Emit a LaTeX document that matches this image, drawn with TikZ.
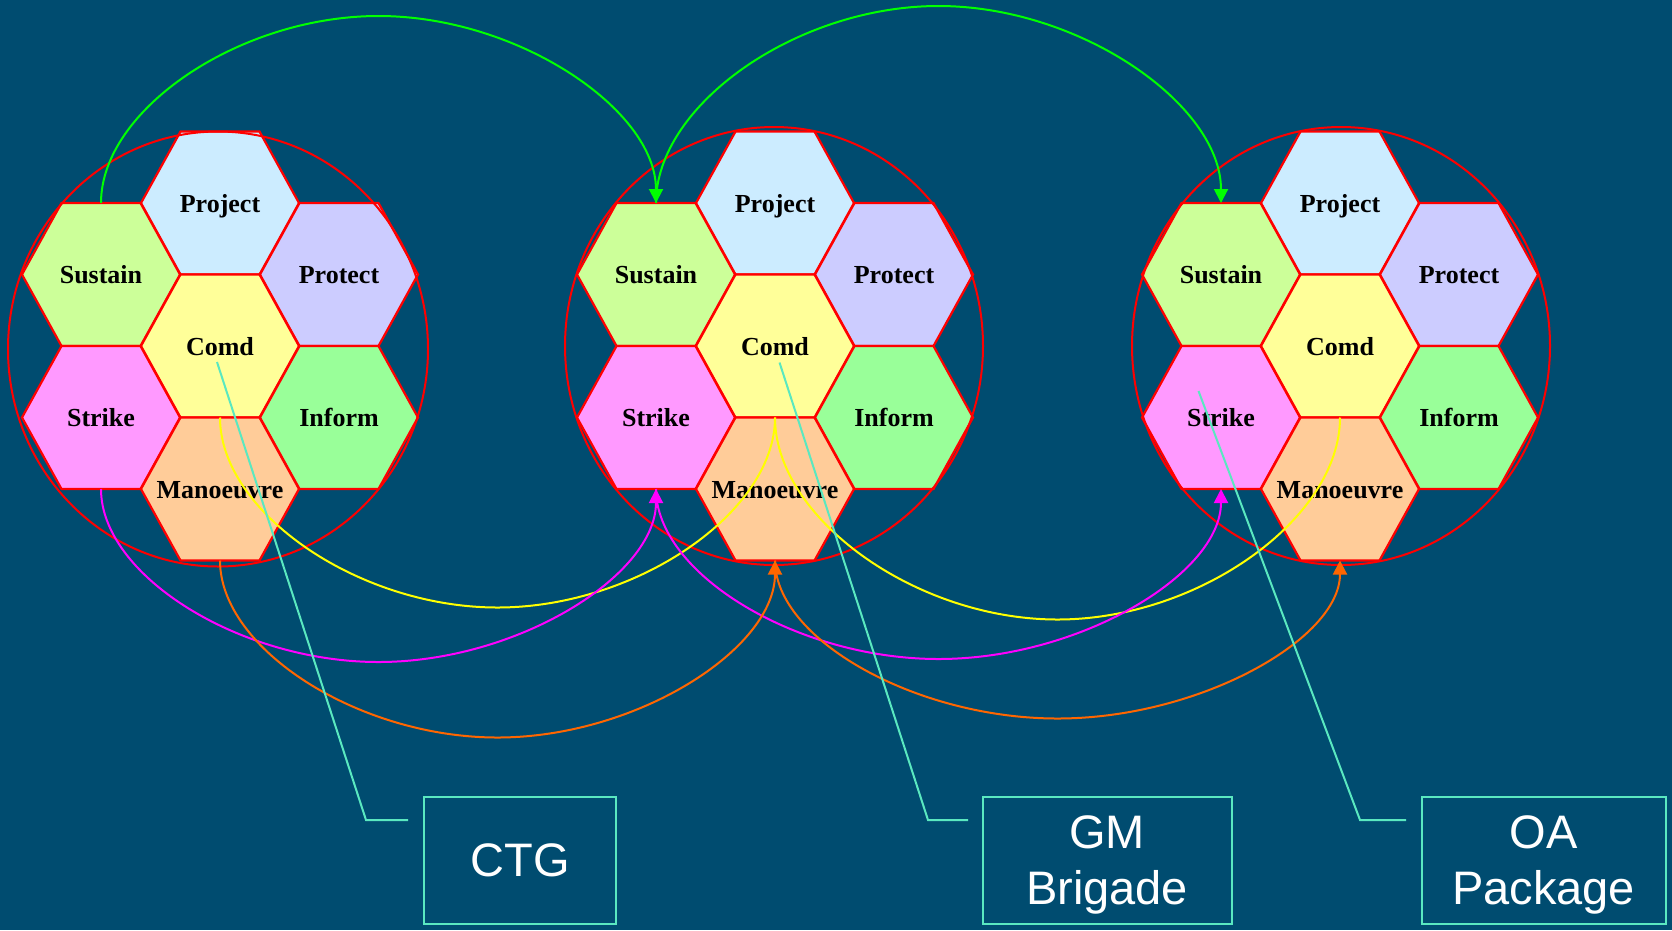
\documentclass[tikz,border=0pt]{standalone}
\usepackage{fontspec}
\setmainfont{Liberation Serif}
\newfontfamily\boxsans{Liberation Sans}
\usetikzlibrary{arrows.meta,calc}
\definecolor{bgblue}{RGB}{0,76,112}
\definecolor{cProject}{HTML}{CCECFF}
\definecolor{cSustain}{HTML}{CCFF99}
\definecolor{cProtect}{HTML}{CCCCFF}
\definecolor{cComd}{HTML}{FFFF99}
\definecolor{cStrike}{HTML}{FF99FF}
\definecolor{cInform}{HTML}{99FF99}
\definecolor{cMan}{HTML}{FFCC99}
\definecolor{cGreen}{HTML}{00FF00}
\definecolor{cMag}{HTML}{FF00FF}
\definecolor{cYel}{HTML}{FFFF00}
\definecolor{cOra}{HTML}{FF6600}
\definecolor{cAqua}{RGB}{90,232,192}
\tikzset{
  hexlabel/.style={minimum width=158pt, minimum height=143pt, inner sep=0pt, outer sep=0pt,
     font=\fontsize{26}{30}\selectfont\bfseries, text height=18pt, text depth=0pt},
  hexline/.style={draw=red, line width=2.2pt},
  ring/.style={draw=red, line width=2pt},
  link/.style={line width=2pt},
  tip/.style={-{Triangle[length=14pt,width=14pt]}},
  leader/.style={draw=cAqua, line width=2pt},
  tbox/.style={draw=cAqua, line width=2pt, minimum height=127pt, inner sep=0pt, text=white,
     font=\boxsans\fontsize{47}{55}\selectfont},
}
\newcommand\hexcell[5]{%
  \filldraw[hexline, fill=#4] ({#2},{#3}) ++(-79,0) -- ++(39.5,-71.5) -- ++(79,0) -- ++(39.5,71.5)
     -- ++(-39.5,71.5) -- ++(-79,0) -- cycle;
  \node[hexlabel] (#1) at ({#2},{#3}) {#5};}
\newcommand\hexcluster[2]{%
  \hexcell{proj#1}{#2}{203}{cProject}{Project}
  \hexcell{sust#1}{#2-119}{274.5}{cSustain}{Sustain}
  \hexcell{prot#1}{#2+119}{274.5}{cProtect}{Protect}
  \hexcell{comd#1}{#2}{346}{cComd}{Comd}
  \hexcell{strk#1}{#2-119}{417.5}{cStrike}{Strike}
  \hexcell{infm#1}{#2+119}{417.5}{cInform}{Inform}
  \hexcell{manv#1}{#2}{489}{cMan}{Manoeuvre}}
\newcommand\pptcurve[4]{%
  \draw[#1] (#2) .. controls ($(#2)+(0,{(#4)/2})$) and ($(#2)!0.25!(#3)+(0,#4)$)
    .. ($(#2)!0.5!(#3)+(0,#4)$)
    .. controls ($(#2)!0.75!(#3)+(0,#4)$) and ($(#3)+(0,{(#4)/2})$) .. (#3);}
\begin{document}
\begin{tikzpicture}[x=1pt,y=-1pt]
\useasboundingbox (0,0) rectangle (1672,930);
\fill[bgblue] (0,0) rectangle (1672,930);
% hexagon clusters
\hexcluster{1}{220}
\hexcluster{2}{775}
\hexcluster{3}{1340}
% rings
\draw[ring] (218,349) ellipse [x radius=210pt, y radius=217.5pt];
\draw[ring] (774,346) ellipse [x radius=209pt, y radius=219pt];
\draw[ring] (1341,346) ellipse [x radius=209pt, y radius=219pt];
% links
\pptcurve{link,cGreen,tip}{sust1.north}{sust2.north}{-187}
\pptcurve{link,cGreen,tip}{sust2.north}{sust3.north}{-197}
\pptcurve{link,cYel}{comd1.south}{comd2.south}{190}
\pptcurve{link,cYel}{comd2.south}{comd3.south}{202}
\pptcurve{link,cMag,tip}{strk1.south}{strk2.south}{173}
\pptcurve{link,cMag,tip}{strk2.south}{strk3.south}{170}
\pptcurve{link,cOra,tip}{manv1.south}{manv2.south}{177}
\pptcurve{link,cOra,tip}{manv2.south}{manv3.south}{158}
% boxes
\node[tbox, minimum width=192pt, text height=33.6pt, text depth=0pt] (ctg) at (520,860) {CTG};
\node[tbox, minimum width=249pt, text depth=0pt] (gmb) at (1107,860)
  {\vbox{\baselineskip=56pt\hbox to 0pt{\hss GM\hss}\hbox to 0pt{\hss Brigade\hss}}};
\node[tbox, minimum width=244pt, text depth=0pt] (oap) at (1543.5,860)
  {\vbox{\baselineskip=56pt\hbox to 0pt{\hss OA\hss}\hbox to 0pt{\hss Package\hss}}};
% leaders
\coordinate (ctgbend) at (366,820);
\coordinate (ctgend) at (408,820);
\coordinate (gmbend) at (928,820);
\coordinate (gmend) at (968,820);
\coordinate (oabend) at (1360,820);
\coordinate (oaend) at (1406,820);
\draw[leader] ([shift={(-3,16)}]comd1.center) -- (ctgbend) -- (ctgend);
\draw[leader] ([shift={(4.5,16.5)}]comd2.center) -- (gmbend) -- (gmend);
\draw[leader] ([shift={(-22.5,-26.5)}]strk3.center) -- (oabend) -- (oaend);
\end{tikzpicture}
\end{document}
